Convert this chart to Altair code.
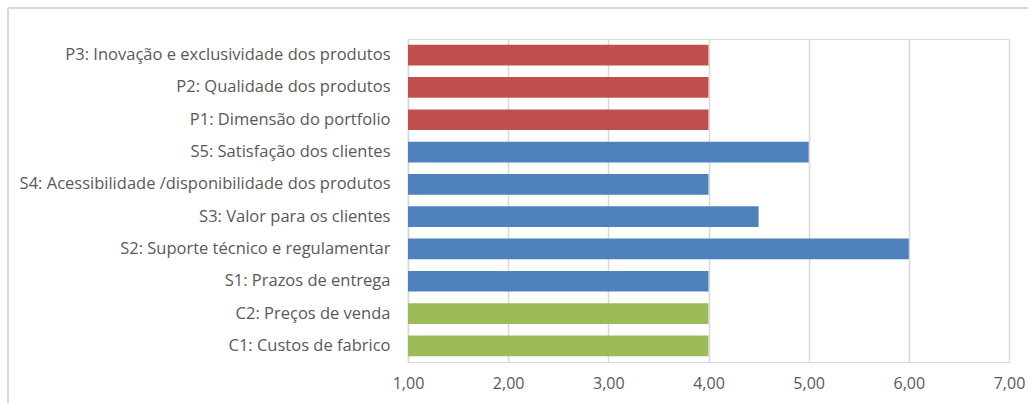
import altair as alt
import pandas as pd

categories = [
    "P3: Inovação e exclusividade dos produtos",
    "P2: Qualidade dos produtos",
    "P1: Dimensão do portfolio",
    "S5: Satisfação dos clientes",
    "S4: Acessibilidade /disponibilidade dos produtos",
    "S3: Valor para os clientes",
    "S2: Suporte técnico e regulamentar",
    "S1: Prazos de entrega",
    "C2: Preços de venda",
    "C1: Custos de fabrico",
]
values = [4, 4, 4, 5, 4, 4.5, 6, 4, 4, 4]
groups = ["P", "P", "P", "S", "S", "S", "S", "S", "C", "C"]
base_value = 1

df = pd.DataFrame({"cat": categories, "value": values, "group": groups,
                   "start": [base_value] * len(values)})

FONT = "Open Sans"
TXT = "#595959"
GRID = "#d9d9d9"

bars = alt.Chart(df).mark_bar().encode(
    y=alt.Y("cat:N", sort=categories, title=None,
            scale=alt.Scale(paddingInner=0.36, paddingOuter=0.18),
            axis=alt.Axis(labelFont=FONT, labelFontSize=16.5, labelColor=TXT,
                          labelPadding=18, ticks=False, domainColor=GRID,
                          domainWidth=1.5, labelLimit=400)),
    x=alt.X("start:Q", title=None,
            scale=alt.Scale(domain=[1, 7], nice=False, zero=False),
            axis=alt.Axis(values=[1, 2, 3, 4, 5, 6, 7], format=".2f",
                          labelExpr="replace(format(datum.value, '.2f'), '.', ',')",
                          labelFont=FONT, labelFontSize=16, labelColor=TXT,
                          labelPadding=13, ticks=False, domain=False,
                          gridColor=GRID, gridWidth=1.5, labelFlush=False)),
    x2="value:Q",
    color=alt.Color("group:N", legend=None,
                    scale=alt.Scale(domain=["P", "S", "C"],
                                    range=["#C0504D", "#4F81BD", "#9BBB59"])),
)

frame = alt.Chart(pd.DataFrame({"a": [0]})).mark_rule(
    color=GRID, strokeWidth=2).encode(
    x=alt.value(-400), y=alt.value(-31), y2=alt.value(400))
frame_top = alt.Chart(pd.DataFrame({"a": [0]})).mark_rule(
    color=GRID, strokeWidth=2).encode(
    x=alt.value(-400), x2=alt.value(640), y=alt.value(-31))

chart = alt.layer(bars, frame, frame_top).properties(
    width=601, height=323,
    autosize=alt.AutoSizeParams(type="none"),
    padding={"left": 408, "top": 39, "right": 19, "bottom": 41},
).configure_view(stroke=None).configure(background="white")

chart.save("out.html", embed_options={"renderer": "svg", "actions": False})
